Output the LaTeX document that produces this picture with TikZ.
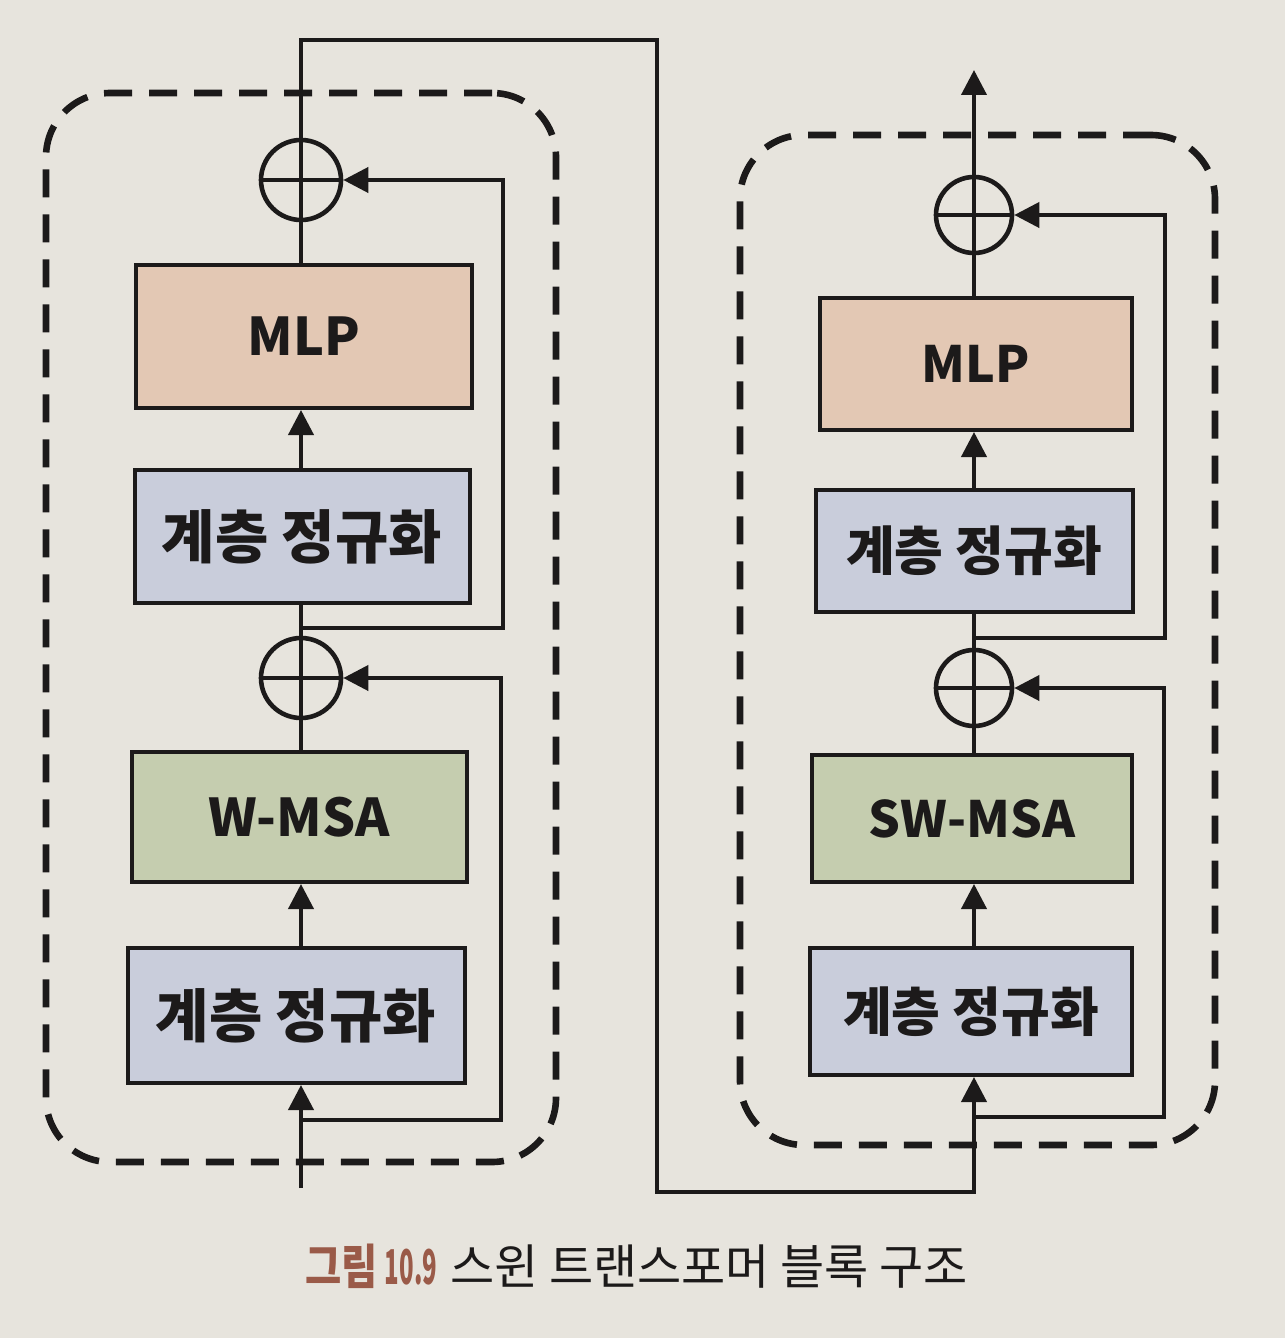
\documentclass[tikz,border=0pt]{standalone}
\usepackage{fontspec}
\setmainfont{Noto Sans CJK KR}
\usetikzlibrary{arrows.meta}
\definecolor{paper}{HTML}{E7E4DD}
\definecolor{mlpfill}{HTML}{E3C8B4}
\definecolor{lnfill}{HTML}{C9CDDB}
\definecolor{msafill}{HTML}{C5CDAF}
\definecolor{ink}{HTML}{1C1A1A}
\definecolor{capbrown}{HTML}{9A5A48}
\tikzset{
  blk/.style={draw=ink, line width=2pt, inner sep=0pt, text=ink,
    font=\fontsize{26}{30}\selectfont\bfseries},
  krL/.style={font=\fontsize{29}{33}\selectfont\bfseries},
  krR/.style={font=\fontsize{26.5}{30}\selectfont\bfseries},
  enL/.style={font=\fontsize{26}{30}\selectfont\bfseries},
  enR/.style={font=\fontsize{25}{30}\selectfont\bfseries},
  addc/.style={draw=ink, line width=2.3pt, circle, inner sep=0pt, minimum size=40pt,
    path picture={\draw[ink, line width=2pt]
      (path picture bounding box.north) -- (path picture bounding box.south)
      (path picture bounding box.west) -- (path picture bounding box.east);}},
  wire/.style={draw=ink, line width=2pt},
  arr/.style={wire, -{Triangle[length=12.5pt,width=12.5pt]}},
  dashbox/.style={draw=ink, line width=3.3pt, dash pattern=on 14pt off 8.5pt,
    rounded corners=32pt, inner sep=0pt},
}
\begin{document}
\begin{tikzpicture}[x=0.5pt,y=-0.5pt]
\useasboundingbox[fill=paper] (0,0) rectangle (1285,1338);

% dashed block outlines
\node[dashbox, minimum width=255pt, minimum height=534.5pt] (blockL) at (301,627.5) {};
\node[dashbox, minimum width=237.5pt, minimum height=505pt] (blockR) at (977.5,640) {};

% ---------- left block ----------
\node[blk, enL, fill=mlpfill, minimum width=168pt, minimum height=71.5pt] (mlpL) at (304,336.5) {MLP};
\node[blk, krL, fill=lnfill, minimum width=167.5pt, minimum height=66.5pt] (lnaL) at (302,536.5) {계층 정규화};
\node[blk, enL, fill=msafill, minimum width=167.5pt, minimum height=65pt] (msaL) at (299,817) {W-MSA};
\node[blk, krL, fill=lnfill, minimum width=168.5pt, minimum height=67.5pt] (lnbL) at (296,1015.5) {계층 정규화};
\node[addc] (c1L) at (301,180) {};
\node[addc] (c2L) at (301,678) {};

\coordinate (inL) at (301,1188);
\coordinate (j1L) at (301,1120);
\coordinate (j2L) at (301,628);

\draw[arr] (inL) -- (lnbL.south -| inL);
\draw[arr] (lnbL.north -| inL) -- (msaL.south -| inL);
\draw[wire] (msaL.north -| inL) -- (c2L.south);
\draw[wire] (c2L.north) -- (lnaL.south -| inL);
\draw[arr] (lnaL.north -| inL) -- (mlpL.south -| inL);
\draw[wire] (mlpL.north -| inL) -- (c1L.south);
\draw[arr] (j1L) -- ++(200,0) |- (c2L.east);
\draw[arr] (j2L) -- ++(202,0) |- (c1L.east);

% ---------- bridge ----------
\coordinate (b1) at (657,40);
\coordinate (b2) at (657,1192);

% ---------- right block ----------
\node[blk, enR, fill=mlpfill, minimum width=156pt, minimum height=66pt] (mlpR) at (976,364) {MLP};
\node[blk, krR, fill=lnfill, minimum width=158.5pt, minimum height=61pt] (lnaR) at (974,551) {계층 정규화};
\node[blk, enR, fill=msafill, minimum width=160pt, minimum height=63.5pt] (msaR) at (972,818.5) {SW-MSA};
\node[blk, krR, fill=lnfill, minimum width=161pt, minimum height=63.5pt] (lnbR) at (971,1011.5) {계층 정규화};
\node[addc, minimum size=38pt] (c1R) at (974,215) {};
\node[addc, minimum size=38pt] (c2R) at (974,688) {};

\coordinate (outR) at (974,70);
\coordinate (j1R) at (974,1117);
\coordinate (j2R) at (974,638);

\draw[arr] (c1L.north) |- (b1) -- (b2) -| (lnbR.south -| j1R);
\draw[arr] (lnbR.north -| j1R) -- (msaR.south -| j1R);
\draw[wire] (msaR.north -| j1R) -- (c2R.south);
\draw[wire] (c2R.north) -- (lnaR.south -| j1R);
\draw[arr] (lnaR.north -| j1R) -- (mlpR.south -| j1R);
\draw[wire] (mlpR.north -| j1R) -- (c1R.south);
\draw[arr] (c1R.north) -- (outR);
\draw[arr] (j1R) -- ++(190,0) |- (c2R.east);
\draw[arr] (j2R) -- ++(191,0) |- (c1R.east);

% ---------- caption ----------
\node[anchor=west, inner sep=0pt, font=\fontsize{24}{28}\selectfont] (cap) at (305,1266)
  {\textcolor{capbrown}{\bfseries\scalebox{0.82}[1]{그림}\hspace{3.5pt}\scalebox{0.5}[1]{10.9}}\hspace{6.5pt}\textcolor{ink}{스윈 트랜스포머 블록 구조}};
\end{tikzpicture}
\end{document}
